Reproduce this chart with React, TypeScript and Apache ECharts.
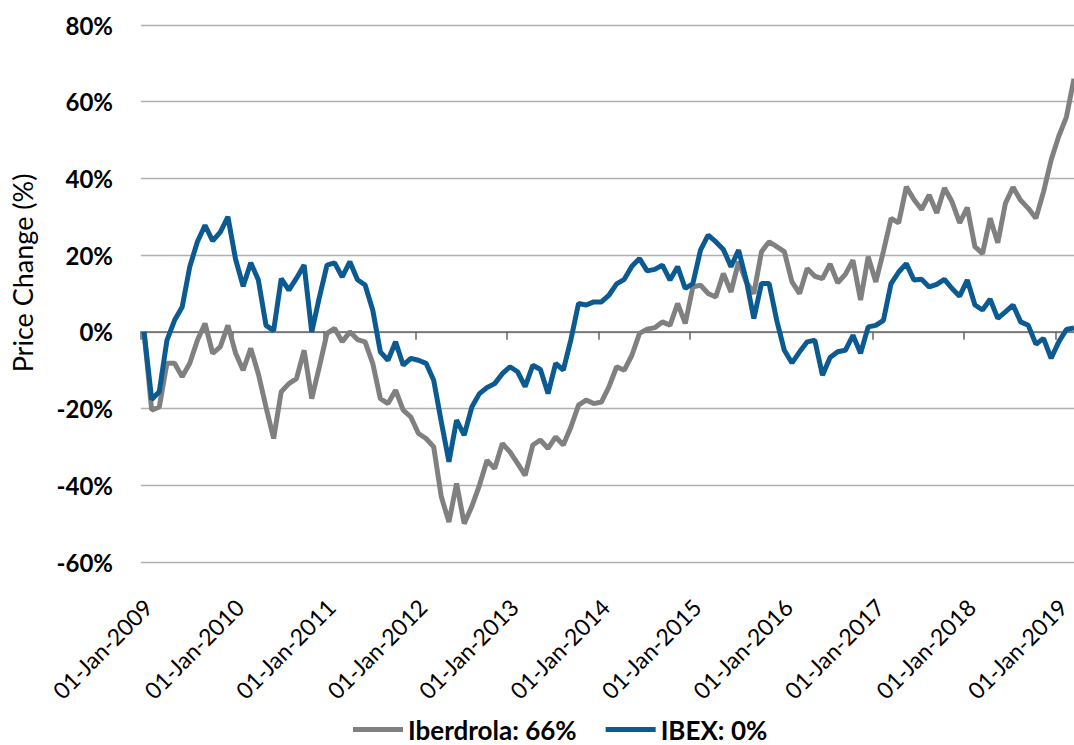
import React, { useEffect, useRef } from "react";
import * as echarts from "echarts";

// Monthly price change since Jan 2009 (%), one value per month, Jan 2009 .. Mar 2019
const iberdrola: number[] = [
  0, -20.4, -19.6, -8.2, -8.2, -11.7, -8.2, -2.2, 2.2, -5.6, -3.9, 1.7,
  -5.5, -10, -4.3, -11, -19.6, -27.8, -15.6, -13.5, -12.2, -4.8, -17.4, -9.1,
  -0.4, 0.9, -2.6, 0, -2, -2.6, -8.2, -17.4, -18.7, -15.2, -20.4, -22.2,
  -26.5, -27.8, -30, -43, -49.6, -39.5, -50, -45.5, -40, -33.5, -35.6, -29.1,
  -31.3, -34.3, -37.4, -29.5, -28.2, -30.4, -27.4, -29.5, -24.8, -19.1, -17.8, -18.7,
  -18.3, -14.3, -9.1, -10, -6.1, -0.4, 0.7, 1.1, 2.6, 1.7, 7.4, 2.2,
  11.7, 12.2, 10, 9.1, 15.2, 10.4, 18.3, 13, 10, 20.9, 23.5, 22.2,
  20.9, 13, 10, 16.5, 14.5, 13.9, 17.7, 12.8, 15, 18.7, 8.3, 19.6,
  13, 21, 29.6, 28.4, 37.8, 34.5, 31.9, 35.7, 31, 37.5, 33.9, 28.4,
  32.4, 22.2, 20.4, 29.6, 23.2, 33.5, 37.7, 34.3, 32.2, 29.6, 36.5, 44.8,
  51, 56, 66,
];

const ibex: number[] = [
  0, -17.6, -15.6, -2.2, 3, 6.5, 17, 23.5, 27.8, 23.7, 26, 30,
  19, 11.9, 18, 13.5, 1.7, 0.3, 13.9, 10.9, 14, 17.4, 0, 9,
  17.4, 18, 14.3, 18.3, 13.6, 12.2, 5.7, -5.2, -7.4, -2.6, -8.7, -6.9,
  -7.4, -8.2, -12.6, -23.5, -33.9, -23, -26.9, -19.6, -16.1, -14.5, -13.5, -10.9,
  -9.1, -10.4, -14.3, -8.7, -9.8, -16.1, -8.2, -10, -2, 7.4, 7, 7.8,
  7.8, 9.6, 12.5, 13.7, 17.1, 19.1, 15.9, 16.3, 17.4, 13.5, 17, 11.3,
  12.6, 21.3, 25.2, 23.5, 21.5, 17, 21.3, 13.5, 3.5, 12.6, 12.6, 3,
  -4.8, -8.1, -5.2, -2.6, -2.2, -11.3, -6.7, -5.2, -4.8, -0.9, -5.6, 1.3,
  1.7, 3, 12.6, 15.6, 17.8, 13.5, 13.7, 11.7, 12.4, 13.7, 11.3, 9.3,
  13.5, 7, 5.7, 8.5, 3.5, 5.2, 7, 2.6, 1.7, -3.2, -1.7, -6.9,
  -2.6, 0.6, 1,
];

const yearTicks: string[] = [
  "01-Jan-2009", "01-Jan-2010", "01-Jan-2011", "01-Jan-2012", "01-Jan-2013", "01-Jan-2014",
  "01-Jan-2015", "01-Jan-2016", "01-Jan-2017", "01-Jan-2018", "01-Jan-2019",
];

const seriesNames: string[] = ["Iberdrola: 66%", "IBEX: 0%"];

const FONT = "Lato, 'Open Sans', sans-serif";

export default function App() {
  const ref = useRef<HTMLDivElement>(null);

  useEffect(() => {
    if (!ref.current) return;
    const chart = echarts.init(ref.current, undefined, { renderer: "svg" });
    const X_MIN = -0.4;
    const option: any = {
      animation: false,
      backgroundColor: "#ffffff",
      grid: { left: 141, right: 0, top: 25, bottom: 183, outerBoundsMode: "none", containLabel: false },
      legend: {
        data: seriesNames,
        left: 353,
        top: 716,
        icon: "rect",
        itemWidth: 50,
        itemHeight: 5,
        itemGap: 29,
        padding: 0,
        textStyle: { fontFamily: FONT, fontSize: 26, fontWeight: "bold", color: "#000", lineHeight: 27 },
      },
      graphic: [
        {
          type: "text",
          x: 22,
          y: 273,
          rotation: Math.PI / 2,
          style: {
            text: "Price Change (%)",
            font: `27px ${FONT}`,
            fill: "#000",
            textAlign: "center",
            textVerticalAlign: "middle",
          },
        },
      ],
      xAxis: {
        type: "value",
        min: X_MIN,
        max: 122,
        interval: 12,
        axisLine: { show: true, onZero: true, lineStyle: { color: "#666666", width: 1.5 } },
        axisTick: { show: true, length: 8, lineStyle: { color: "#666666", width: 1.5 } },
        splitLine: { show: false },
        axisLabel: {
          rotate: 45,
          margin: 34,
          fontFamily: FONT,
          fontSize: 23,
          lineHeight: 20,
          color: "#000",
          align: "right",
          verticalAlign: "top",
          showMaxLabel: false,
          formatter: (v: number) => {
            const k = Math.round((v - X_MIN) / 12);
            if (Math.abs(v - X_MIN - 12 * k) > 0.01) return "";
            return yearTicks[k] ?? "";
          },
        },
      },
      yAxis: {
        type: "value",
        min: -60,
        max: 80,
        interval: 20,
        axisLine: { show: false },
        axisTick: { show: false },
        splitLine: { show: true, lineStyle: { color: "#b0b0b0", width: 1.4 } },
        axisLabel: {
          formatter: "{value}%",
          margin: 28,
          fontFamily: FONT,
          fontSize: 24,
          fontWeight: "bold",
          color: "#000",
        },
      },
      series: [
        {
          name: seriesNames[0],
          type: "line",
          showSymbol: false,
          color: "#808080",
          lineStyle: { width: 5, color: "#808080" },
          data: iberdrola.map((v, i) => [i, v]),
        },
        {
          name: seriesNames[1],
          type: "line",
          showSymbol: false,
          color: "#0B5A91",
          lineStyle: { width: 5, color: "#0B5A91" },
          data: ibex.map((v, i) => [i, v]),
        },
      ],
    };
    chart.setOption(option);
    return () => chart.dispose();
  }, []);

  return (
    <div
      ref={ref}
      style={{ position: "absolute", left: 0, top: 0, width: 1074, height: 745 }}
    />
  );
}
